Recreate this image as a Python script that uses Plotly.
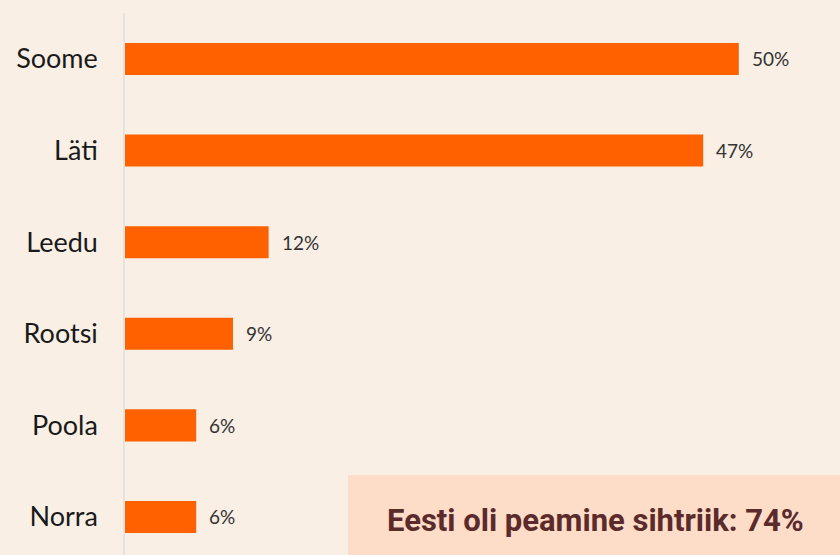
import plotly.graph_objects as go

countries = ["Soome", "Läti", "Leedu", "Rootsi", "Poola", "Norra"]
shares = [50, 47.1, 11.7, 8.8, 5.8, 5.8]
share_labels = ["50%", "47%", "12%", "9%", "6%", "6%"]
callout = "Eesti oli peamine sihtriik: 74%"

W, H = 840, 555
L, R, T, B = 125, 3, 13, 0

fig = go.Figure(go.Bar(
    x=shares, y=countries, orientation="h",
    marker=dict(color="#FF6000", line=dict(width=0)),
    width=0.35,
    hoverinfo="skip",
))

annotations = [
    dict(x=v, y=c, xref="x", yref="y", text=t, showarrow=False,
         xanchor="left", yanchor="middle", xshift=11,
         font=dict(family="Lato, sans-serif", size=19, color="#333333"))
    for c, v, t in zip(countries, shares, share_labels)
]
annotations.append(dict(text=f"<b>{callout}</b>", xref="paper", yref="paper",
                        x=(595 - L) / (W - L - R), y=(H - 520) / (H - T - B),
                        showarrow=False, xanchor="center", yanchor="middle",
                        font=dict(family="Roboto, sans-serif", size=31, color="#5B2A2A")))

fig.update_layout(
    width=W, height=H,
    margin=dict(l=L, r=R, t=T, b=B),
    paper_bgcolor="#F9EFE5", plot_bgcolor="#F9EFE5",
    showlegend=False,
    xaxis=dict(range=[0, 58], visible=False, fixedrange=True),
    yaxis=dict(type="category", categoryorder="array", categoryarray=countries,
               range=[5.415, -0.502], showline=True, linecolor="#E6E2DE", linewidth=1.5,
               showgrid=False, ticks="", ticklabelstandoff=20, fixedrange=True,
               tickfont=dict(family="Lato, sans-serif", size=27, color="#1A1A1A")),
    shapes=[dict(type="rect", xref="paper", yref="paper",
                 x0=(348 - L) / (W - L - R), x1=1.05,
                 y0=-0.05, y1=(H - 475) / (H - T - B),
                 fillcolor="#FDDCC8", line=dict(width=0), layer="above")],
    annotations=annotations,
)

fig.write_html("out.html", config={"displayModeBar": False},
               post_script="document.body.style.margin='0';document.body.style.background='#F9EFE5';")
